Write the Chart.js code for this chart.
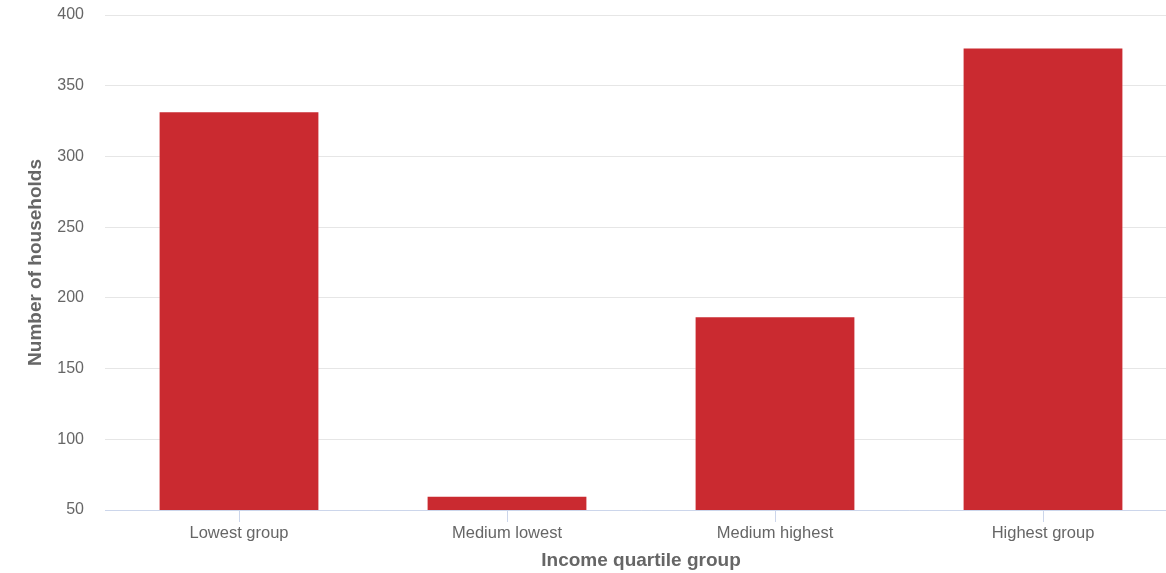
<!DOCTYPE html>
<html>
<head>
<meta charset="utf-8">
<script src="https://cdn.jsdelivr.net/npm/chart.js@4/dist/chart.umd.min.js"></script>
<style>
  html, body { margin: 0; padding: 0; background: #ffffff; overflow: hidden; }
  #wrap { position: absolute; left: 0; top: 0; width: 1177px; height: 573px; }
</style>
</head>
<body>
<div id="wrap"><canvas id="c"></canvas></div>
<script>
const categories = ["Lowest group", "Medium lowest", "Medium highest", "Highest group"];
const households = [332, 60, 187, 377];
const yTicks = [50, 100, 150, 200, 250, 300, 350, 400];
const xTitle = "Income quartile group";
const yTitle = "Number of households";

const FONT = "'Liberation Sans', Arial, Helvetica, sans-serif";

new Chart(document.getElementById('c'), {
  type: 'bar',
  data: {
    labels: categories,
    datasets: [{
      label: yTitle,
      data: households,
      backgroundColor: '#ca2a30',
      borderColor: 'rgba(255,255,255,0.35)',
      borderWidth: 1,
      barPercentage: 0.6,
      categoryPercentage: 1.0
    }]
  },
  options: {
    responsive: true,
    maintainAspectRatio: false,
    animation: false,
    layout: { padding: { top: 15, right: 0, bottom: 0, left: 0 } },
    plugins: { legend: { display: false }, tooltip: { enabled: false } },
    scales: {
      x: {
        grid: { display: true, drawOnChartArea: false, drawTicks: true, tickLength: 12, color: '#ccd6eb', offset: false },
        border: { display: true, color: '#ccd6eb', width: 1 },
        ticks: { color: '#666666', font: { family: FONT, size: 16.5 }, padding: 2, maxRotation: 0 },
        title: { display: true, text: xTitle, color: '#666666', font: { family: FONT, size: 19, weight: 'bold' }, padding: { top: 4, bottom: 1 } },
        afterFit: (s) => { s.height = 63; }
      },
      y: {
        min: yTicks[0],
        max: yTicks[yTicks.length - 1],
        afterBuildTicks: (s) => { s.ticks = yTicks.map(v => ({ value: v })); },
        grid: { color: '#e6e6e6', drawTicks: false },
        border: { display: false },
        ticks: { color: '#666666', font: { family: FONT, size: 16 }, padding: 21 },
        title: { display: true, text: yTitle, color: '#666666', font: { family: FONT, size: 19, weight: 'bold' }, padding: { top: 24, bottom: 0 } },
        afterFit: (s) => { s.width = 105; s.paddingTop = 0; s.paddingBottom = 0; }
      }
    }
  }
});
</script>
</body>
</html>
